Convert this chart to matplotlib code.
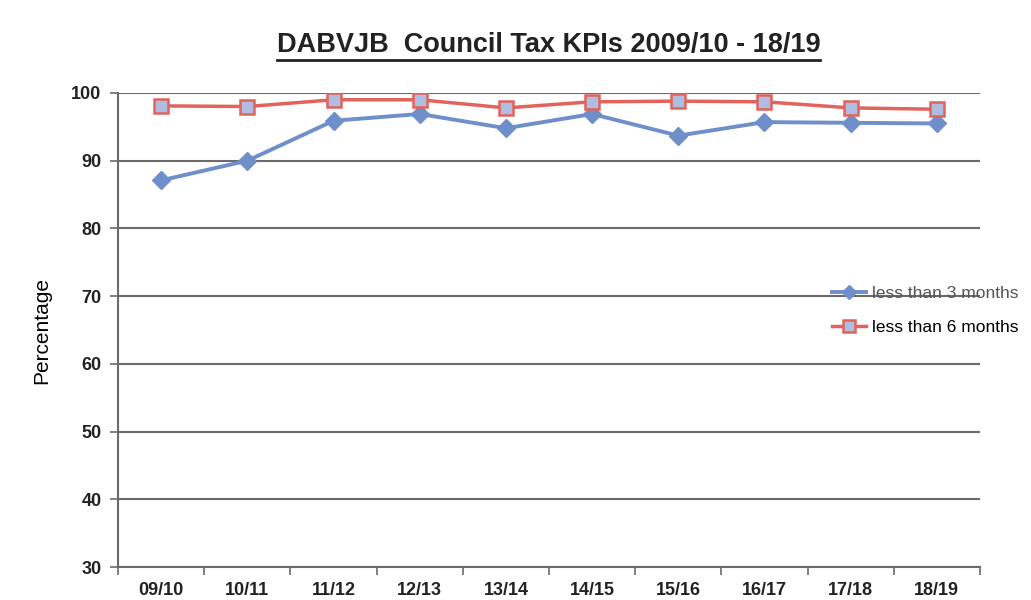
import numpy as np
import matplotlib
matplotlib.use("Agg")
import matplotlib.pyplot as plt
from matplotlib.lines import Line2D

# Données
years = ["09/10", "10/11", "11/12", "12/13", "13/14",
         "14/15", "15/16", "16/17", "17/18", "18/19"]
less_3_months = [87.1, 90.0, 95.9, 96.9, 94.8, 96.9, 93.7, 95.7, 95.6, 95.5]
less_6_months = [98.1, 98.0, 99.0, 99.0, 97.8, 98.7, 98.8, 98.7, 97.8, 97.6]
y_ticks = [30, 40, 50, 60, 70, 80, 90, 100]

plt.rcParams["font.family"] = ["Liberation Sans", "DejaVu Sans"]

fig = plt.figure(figsize=(10.31, 6.0), dpi=100)
ax = fig.add_axes([0.1145, 0.055, 0.836, 0.79])

x = np.arange(len(years))
grey = "#6b6b6b"

l1, = ax.plot(x, less_3_months, color="#6f8fca", lw=2.8, marker="D",
              markersize=9, markerfacecolor="#6f8fca",
              markeredgecolor="#6f8fca", label="less than 3 months", zorder=3)
l2, = ax.plot(x, less_6_months, color="#e2625c", lw=2.5, marker="s",
              markersize=10, markerfacecolor="#aebde0",
              markeredgecolor="#e2625c", markeredgewidth=1.8,
              label="less than 6 months", zorder=4)

ax.set_xlim(-0.5, len(years) - 0.5)
ax.set_ylim(30, 100)
ax.set_yticks(y_ticks)
ax.set_xticks(x)
ax.set_xticklabels(years)
ax.set_xticks(np.arange(-0.5, len(years)), minor=True)
ax.tick_params(axis="x", which="major", length=0, pad=11)
ax.tick_params(axis="x", which="minor", length=6, color=grey, width=1.2)
ax.tick_params(axis="y", length=6, color=grey, width=1.2, pad=6)
for lab in ax.get_xticklabels() + ax.get_yticklabels():
    lab.set_fontweight("bold")
    lab.set_fontsize(13)
    lab.set_color("#222222")

ax.grid(axis="y", color=grey, lw=1.5)
ax.set_axisbelow(True)
for s in ["top", "right"]:
    ax.spines[s].set_visible(False)
for s in ["left", "bottom"]:
    ax.spines[s].set_color(grey)
    ax.spines[s].set_linewidth(1.5)

ax.set_ylabel("Percentage", fontsize=15, labelpad=14)

leg = fig.legend(handles=[l1, l2], loc="upper left",
                 bbox_to_anchor=(0.80, 0.535), frameon=False, fontsize=12.5,
                 handlelength=2.0, handletextpad=0.3, labelspacing=1.1,
                 borderaxespad=0, markerscale=0.8)
leg.get_texts()[0].set_color("#555555")

title = fig.text(0.532, 0.925, "DABVJB  Council Tax KPIs 2009/10 - 18/19",
                 ha="center", va="center", fontsize=19.5, fontweight="bold",
                 color="#222222")

# soulignement du titre
fig.canvas.draw()
bb = title.get_window_extent().transformed(fig.transFigure.inverted())
fig.add_artist(Line2D([bb.x0, bb.x1], [bb.y0 - 0.003, bb.y0 - 0.003],
                      transform=fig.transFigure, color="#222222", lw=2.0))

fig.savefig("out.png", dpi=100)
